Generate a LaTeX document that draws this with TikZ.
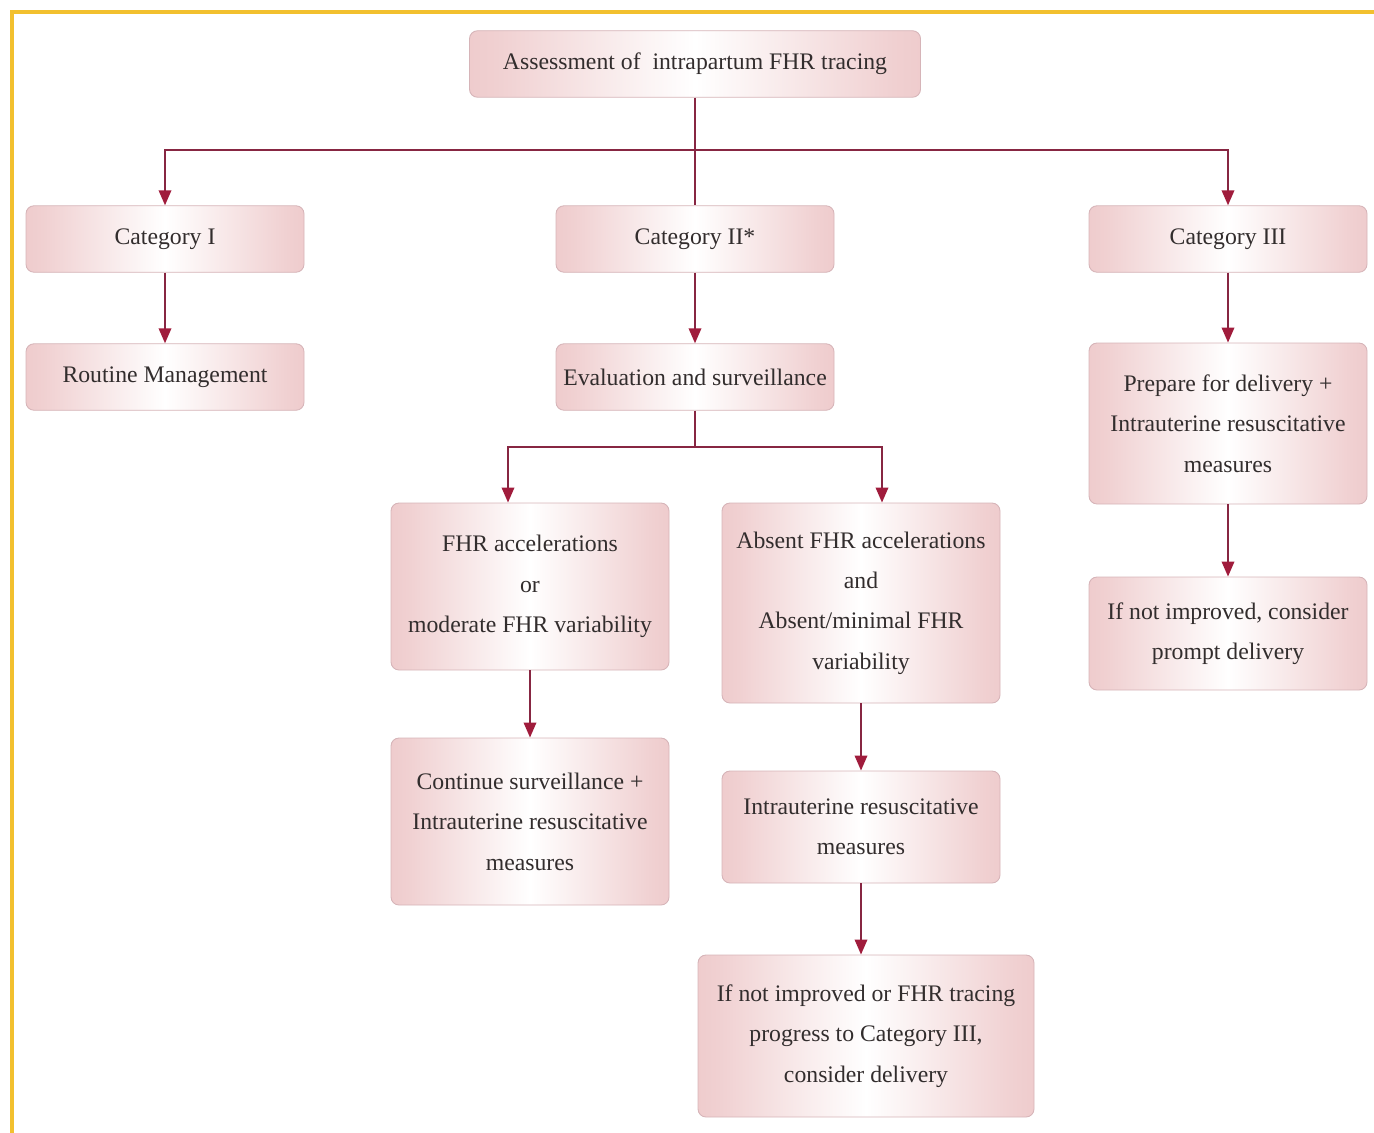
\documentclass[tikz,border=0pt]{standalone}
\usepackage{fontspec}
\setmainfont{Liberation Serif}
\usetikzlibrary{arrows.meta}
\definecolor{boxedge}{RGB}{226,170,172}
\definecolor{boxmid}{RGB}{240,208,209}
\definecolor{boxline}{RGB}{214,180,184}
\definecolor{linkred}{RGB}{135,38,66}
\definecolor{tipred}{RGB}{160,28,60}
\definecolor{frameyellow}{RGB}{242,192,46}
\definecolor{txtgray}{RGB}{50,45,45}
\pgfdeclarehorizontalshading{boxshade}{100bp}{color(0bp)=(boxedge); color(28bp)=(boxmid); color(50bp)=(white); color(72bp)=(boxmid); color(100bp)=(boxedge)}

\begin{document}
\begin{tikzpicture}
%define

\tikzstyle{box_s} = [rectangle, rounded corners=1.6mm, minimum width=5.56cm, minimum height=1.33cm, text centered, align=center, draw=boxline, line width=0.5pt, shading=boxshade, text=txtgray, font=\fontsize{13.5}{23}\selectfont]
\tikzstyle{box_w} = [box_s, minimum width=9.02cm]
\tikzstyle{box_f} = [box_s, minimum width=6.72cm]
\tikzstyle{link} = [draw=linkred, line width=1.1pt]
\tikzstyle{arrow} = [link, -{Triangle[length=3mm, width=2.5mm, color=tipred]}]

\useasboundingbox (0,0) rectangle (27.48,-22.66);
%frame
\draw[frameyellow, line width=2.3pt] (0.24,-22.66) -- (0.24,-0.24) -- (27.48,-0.24);

\node[box_w](state_Assess) at (13.9,-1.28){Assessment of \ intrapartum FHR tracing};
\node[box_s](state_CatI) at (3.3,-4.78){Category I};
\node[box_s](state_CatII) at (13.9,-4.78){Category II*};
\node[box_s](state_CatIII) at (24.56,-4.78){Category III};
\node[box_s](state_Routine) at (3.3,-7.54){Routine Management};
\node[box_s](state_Eval) at (13.9,-7.54){Evaluation and surveillance};
\node[box_s, minimum height=3.22cm](state_Prepare) at (24.56,-8.47){Prepare for delivery +\\Intrauterine resuscitative\\measures};
\node[box_s, minimum height=2.26cm](state_Prompt) at (24.56,-12.67){If not improved, consider\\prompt delivery};
\node[box_s, minimum height=3.34cm](state_Accel) at (10.6,-11.73){FHR accelerations\\or\\moderate FHR variability};
\node[box_s, minimum height=4cm](state_Absent) at (17.22,-12.06){Absent FHR accelerations\\and\\Absent/minimal FHR\\variability};
\node[box_s, minimum height=3.34cm](state_Continue) at (10.6,-16.43){Continue surveillance +\\Intrauterine resuscitative\\measures};
\node[box_s, minimum height=2.24cm](state_Intra) at (17.22,-16.54){Intrauterine resuscitative\\measures};
\node[box_f, minimum height=3.24cm](state_Deliver) at (17.32,-20.72){If not improved or FHR tracing\\progress to Category III,\\consider delivery};

\coordinate (bus_top) at (13.9,-3.0);
\coordinate (bus_eval) at (13.9,-8.94);
%line

\draw[link](state_Assess)--(state_CatII); %Assess->CatII
\draw[arrow](bus_top)-|(state_CatI); %Assess->CatI
\draw[arrow](bus_top)-|(state_CatIII); %Assess->CatIII
\draw[arrow](state_CatI)--(state_Routine);
\draw[arrow](state_CatII)--(state_Eval);
\draw[arrow](state_CatIII)--(state_Prepare);
\draw[arrow](state_Prepare)--(state_Prompt);
\draw[link](state_Eval)--(bus_eval);
\draw[arrow](bus_eval)-|([xshift=-0.44cm]state_Accel.north); %Eval->Accel
\draw[arrow](bus_eval)-|([xshift=0.42cm]state_Absent.north); %Eval->Absent
\draw[arrow](state_Accel)--(state_Continue);
\draw[arrow](state_Absent)--(state_Intra);
\draw[arrow](state_Intra)--(state_Intra.south |- state_Deliver.north); %Intra->Deliver

\end{tikzpicture}
\end{document}
